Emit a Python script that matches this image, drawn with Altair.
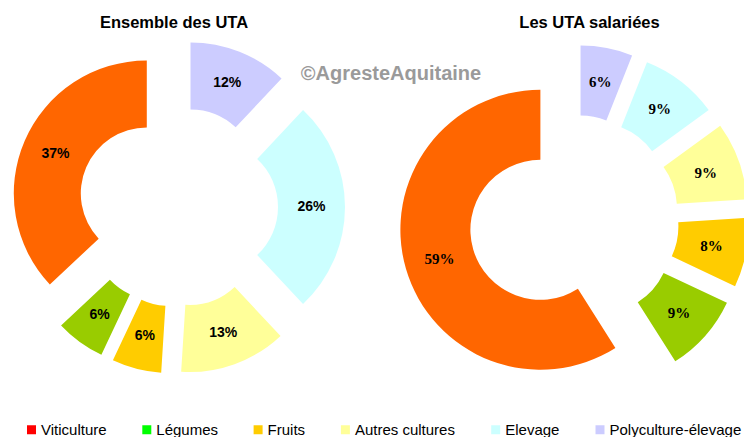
import altair as alt
import pandas as pd

# ---- data ----
categories = ["Viticulture", "Légumes", "Fruits", "Autres cultures", "Elevage", "Polyculture-élevage"]
ensemble_pct = [37, 6, 6, 13, 26, 12]
salariees_pct = [59, 9, 8, 9, 9, 6]
chart_titles = ["Ensemble des UTA", "Les UTA salariées"]
watermark = "©AgresteAquitaine"

slice_colors = ["#FF6600", "#99CC00", "#FFCC00", "#FFFF99", "#CCFFFF", "#CCCCFF"]
legend_colors = ["#FF0000", "#00FF00", "#FFCC00", "#FFFF99", "#CCFFFF", "#CCCCFF"]

# ---- layout / style (pixels in chart coordinates) ----
W, H = 736, 429
donuts = [
    dict(values=ensemble_pct, cx=170, cy=199, R=133, r=66, d=34,
         font="Liberation Sans", fs=14, tx=166, ty=20),
    dict(values=salariees_pct, cx=566, cy=212, R=140, r=70, d=35,
         font="Liberation Serif", fs=15, tx=581.5, ty=20),
]

layers = []
for title, cfg in zip(chart_titles, donuts):
    n = len(categories)
    df = pd.DataFrame({
        "category": categories,
        "value": cfg["values"],
        # clockwise drawing order is the reverse of the legend order
        "ord": list(range(n - 1, -1, -1)),
    })
    rm = (cfg["R"] + cfg["r"]) / 2
    base = (
        alt.Chart(df)
        .transform_joinaggregate(total="sum(value)")
        .transform_window(cum="sum(value)", sort=[alt.SortField("ord", order="ascending")], frame=[None, 0])
        .transform_calculate(t1="2*PI*datum.cum/datum.total")
        .transform_calculate(t0="2*PI*(datum.cum-datum.value)/datum.total")
        .transform_calculate(mid="(datum.t0+datum.t1)/2")
        .transform_calculate(px=f"{cfg['cx']}+{cfg['d']}*sin(datum.mid)")
        .transform_calculate(py=f"{cfg['cy']}-{cfg['d']}*cos(datum.mid)")
        .transform_calculate(lx=f"datum.px+{rm}*sin(datum.mid)")
        .transform_calculate(ly=f"datum.py-{rm}*cos(datum.mid)")
        .transform_calculate(label="datum.value+'%'")
    )
    arcs = base.mark_arc(outerRadius=cfg["R"], innerRadius=cfg["r"]).encode(
        theta=alt.Theta("t0:Q", scale=None),
        theta2=alt.Theta2("t1:Q"),
        x=alt.X("px:Q", scale=None, axis=None),
        y=alt.Y("py:Q", scale=None, axis=None),
        fill=alt.Fill("category:N", scale=alt.Scale(domain=categories, range=slice_colors), legend=None),
    )
    labels = base.mark_text(
        font=cfg["font"], fontSize=cfg["fs"], fontWeight="bold", color="black",
        align="center", baseline="middle",
    ).encode(
        x=alt.X("lx:Q", scale=None, axis=None),
        y=alt.Y("ly:Q", scale=None, axis=None),
        text="label:N",
    )
    ttl = alt.Chart(pd.DataFrame({"t": [title]})).mark_text(
        font="Liberation Sans", fontSize=16.5, fontWeight="bold", color="black",
        align="center", baseline="alphabetic",
    ).encode(x=alt.value(cfg["tx"]), y=alt.value(cfg["ty"]), text="t:N")
    layers += [arcs, labels, ttl]

wm = alt.Chart(pd.DataFrame({"t": [watermark]})).mark_text(
    font="Liberation Sans", fontSize=20, fontWeight="bold", color="#9a9a9a",
    align="center", baseline="alphabetic",
).encode(x=alt.value(383), y=alt.value(72), text="t:N")

legend_layer = alt.Chart(pd.DataFrame({"category": categories})).mark_square(opacity=0).encode(
    x=alt.value(-30), y=alt.value(-30),
    fill=alt.Fill(
        "category:N",
        scale=alt.Scale(domain=categories, range=legend_colors),
        legend=alt.Legend(
            title=None, orient="none", legendX=16, legendY=414, direction="horizontal",
            columnPadding=32.3, labelFontSize=15, labelFont="Liberation Sans", labelColor="black",
            labelOffset=2, symbolType="square", symbolSize=81, symbolStrokeWidth=0,
            padding=0,
        ),
    ),
)

chart = alt.layer(*layers, wm, legend_layer).resolve_scale(fill="independent").properties(
    width=W, height=H, padding=0, autosize="none"
).configure_view(strokeWidth=0)

chart.save("out.html", embed_options={"renderer": "svg", "actions": False})
